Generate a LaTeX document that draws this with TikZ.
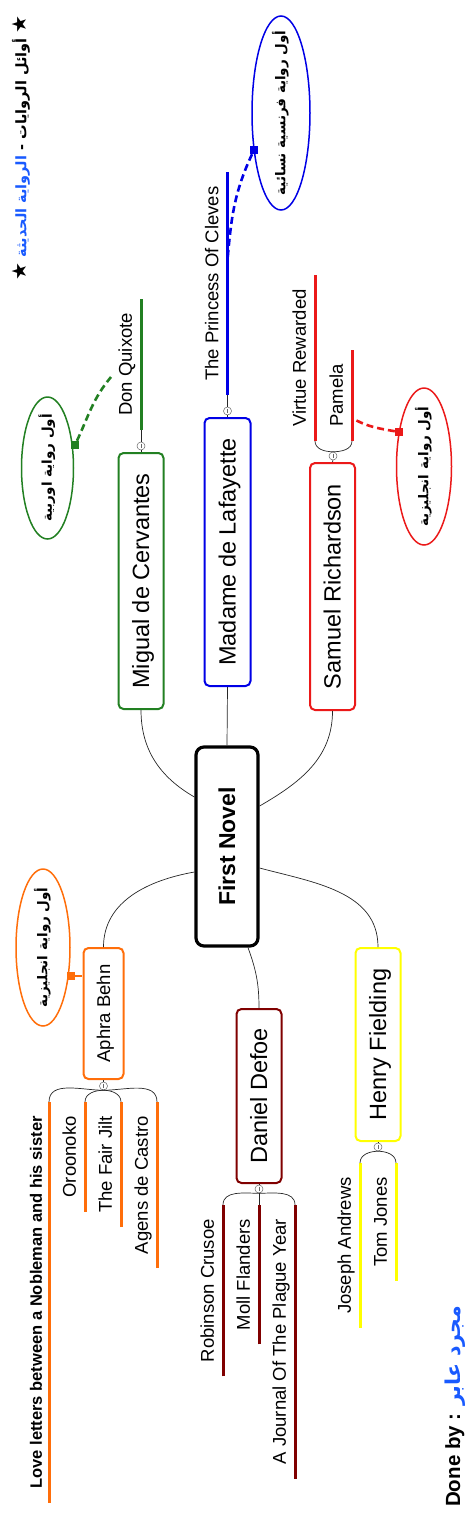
\documentclass[tikz,border=0pt]{standalone}
\usepackage{fontspec}
\setmainfont{Liberation Sans}
\newfontfamily\arabicfont[Script=Arabic]{DejaVu Sans}
\newfontfamily\symbfont{DejaVu Sans}
\TeXXeTstate=1
\usetikzlibrary{shapes.geometric,calc}
\definecolor{cgreen}{RGB}{34,128,34}
\definecolor{cblue}{RGB}{0,0,230}
\definecolor{cred}{RGB}{235,25,25}
\definecolor{corange}{RGB}{255,110,10}
\definecolor{cmaroon}{RGB}{128,0,0}
\definecolor{cyellow}{RGB}{255,255,0}
\definecolor{tblue}{RGB}{25,90,255}
\newcommand{\elltext}[1]{\raisebox{-0.32em}[0pt][0pt]{\makebox[0pt]{\beginR #1\endR}}}
\tikzset{
  conn/.style={draw=black!85, line width=0.7pt},
  fnbox/.style={draw=black, rounded corners=8pt, line width=3.2pt, rotate=90, fill=white,
     font=\bfseries\fontsize{23}{28}\selectfont, inner sep=0pt, text height=16.5pt, text depth=0.5pt,
     minimum width=199pt, minimum height=62pt},
  mainbox/.style={rounded corners=5pt, line width=2pt, rotate=90, fill=white,
     font=\fontsize{23.5}{28}\selectfont, inner sep=0pt, text height=17pt, text depth=1pt},
  sub/.style={rotate=90, font=\fontsize{18.5}{22}\selectfont, inner xsep=14pt, inner ysep=4pt,
     text height=14pt, text depth=5pt},
  subl/.style={line width=3pt},
  coll/.style={circle, draw=black!60, fill=white, inner sep=0pt, minimum size=8pt, line width=0.5pt,
     path picture={\draw[black!60, line width=0.4pt] ([yshift=-1.6pt]path picture bounding box.north) -- ([yshift=1.6pt]path picture bounding box.south);}},
  ell/.style={ellipse, rotate=90, line width=1.5pt, inner sep=0pt, fill=white,
     font=\arabicfont\bfseries\fontsize{13.5}{16}\selectfont},
  sq/.style={rectangle, inner sep=0pt, minimum size=8pt},
  dashl/.style={line width=2.6pt, dash pattern=on 7pt off 4pt}
}
\begin{document}
\begin{tikzpicture}[x=1pt,y=1pt]
\useasboundingbox (0,0) rectangle (468,-1516);

% title
\node[rotate=90, font=\arabicfont\bfseries\fontsize{14.5}{20}\selectfont, inner sep=0pt] (title) at (21,-148)
  {{\symbfont\fontsize{20}{20}\selectfont ★}\ {\color{tblue}\beginR الرواية الحديثة\endR} - \beginR أوائل الروايات\endR\ {\symbfont\fontsize{20}{20}\selectfont ★}};

% central
\node[fnbox] (fn) at (227,-846.5) {First Novel};

% main topics
\node[mainbox, draw=cgreen, minimum width=256pt, minimum height=45pt] (cerv) at (141,-581) {Migual de Cervantes};
\node[mainbox, draw=cblue, minimum width=268pt, minimum height=46pt] (laf) at (227.5,-552) {Madame de Lafayette};
\node[mainbox, draw=cred, minimum width=247pt, minimum height=45pt] (rich) at (332.5,-586.5) {Samuel Richardson};
\node[mainbox, draw=corange, minimum width=131pt, minimum height=40pt, font=\fontsize{18.5}{22}\selectfont, text height=13.2pt, text depth=0pt] (aphra) at (103.5,-1013.5) {Aphra Behn};
\node[mainbox, draw=cmaroon, minimum width=174pt, minimum height=45pt] (defoe) at (259,-1096) {Daniel Defoe};
\node[mainbox, draw=cyellow, minimum width=193pt, minimum height=45pt] (field) at (378,-1044.5) {Henry Fielding};

% connectors from central
\draw[conn] ($(fn.north)+(0,49.5)$) to[out=150,in=-90] (cerv.west);
\draw[conn] (fn.east) -- (laf.west);
\draw[conn] ($(fn.south)+(0,40.5)$) to[out=30,in=-90] (rich.west);
\draw[conn] ($(fn.north)+(0,-25.5)$) to[out=190,in=90] (aphra.east);
\draw[conn] ($(fn.west)+(21,0)$) to[out=-70,in=90] (defoe.east);
\draw[conn] ($(fn.south)+(0,-21.5)$) to[out=-15,in=90] (field.east);

% collapse markers
\node[coll] (cc) at (141,-446) {};
\node[coll] (lc) at (227.5,-411) {};
\node[coll] (rc) at (333,-456) {};
\node[coll] (ac) at (103.5,-1086) {};
\node[coll] (dc) at (259,-1189) {};
\node[coll] (fc) at (378,-1147) {};
\draw[conn] (cerv.east) -- (cc.south);
\draw[conn] (laf.east) -- (lc.south);
\draw[conn] (rich.east) -- (rc.south);
\draw[conn] (aphra.west) -- (ac.north);
\draw[conn] (defoe.west) -- (dc.north);
\draw[conn] (field.west) -- (fc.north);

% Cervantes
\node[sub, anchor=south west] (dq) at (141,-430) {Don Quixote};
\draw[subl, cgreen] (dq.south west) -- (dq.south east);
\draw[conn] (cc.north) -- (dq.south west);

% Lafayette
\node[sub, anchor=south west] (pc) at (227.5,-395) {The Princess Of Cleves};
\draw[subl, cblue] (pc.south west) -- (pc.south east);
\draw[conn] (lc.north) -- (pc.south west);

% Richardson
\node[sub, anchor=south west] (vr) at (315,-441) {Virtue Rewarded};
\node[sub, anchor=south west] (pm) at (352,-441) {Pamela};
\draw[subl, cred] (vr.south west) -- (vr.south east);
\draw[subl, cred] (pm.south west) -- (pm.south east);
\draw[conn] (rc.north) to[out=180,in=-90] (vr.south west);
\draw[conn] (rc.north) to[out=0,in=-90] (pm.south west);

% Aphra Behn
\node[sub, anchor=south east, font=\bfseries\fontsize{16.5}{20}\selectfont, text height=12pt, text depth=3pt] (ll) at (49,-1102) {Love letters between a Nobleman and his sister};
\node[sub, anchor=south east] (oo) at (85,-1102) {Oroonoko};
\node[sub, anchor=south east] (fj) at (121,-1102) {The Fair Jilt};
\node[sub, anchor=south east] (ag) at (157,-1102) {Agens de Castro};
\foreach \n in {ll,oo,fj,ag} \draw[subl, corange] (\n.south west) -- (\n.south east);
\draw[conn] (ac.south) to[out=180,in=90] (ll.south east);
\draw[conn] (ac.south) to[out=180,in=90] (oo.south east);
\draw[conn] (ac.south) to[out=0,in=90] (fj.south east);
\draw[conn] (ac.south) to[out=0,in=90] (ag.south east);

% Defoe
\node[sub, anchor=south east] (rcr) at (223,-1205) {Robinson Crusoe};
\node[sub, anchor=south east] (mf) at (259,-1205) {Moll Flanders};
\node[sub, anchor=south east] (jp) at (295,-1205) {A Journal Of The Plague Year};
\foreach \n in {rcr,mf,jp} \draw[subl, cmaroon] (\n.south west) -- (\n.south east);
\draw[conn] (dc.south) to[out=180,in=90] (rcr.south east);
\draw[conn] (dc.south) -- (mf.south east);
\draw[conn] (dc.south) to[out=0,in=90] (jp.south east);

% Fielding
\node[sub, anchor=south east] (ja) at (360,-1163) {Joseph Andrews};
\node[sub, anchor=south east] (tj) at (396,-1163) {Tom Jones};
\foreach \n in {ja,tj} \draw[subl, cyellow] (\n.south west) -- (\n.south east);
\draw[conn] (fc.south) to[out=180,in=90] (ja.south east);
\draw[conn] (fc.south) to[out=0,in=90] (tj.south east);

% callouts
\node[ell, draw=cblue, minimum width=194pt, minimum height=58pt] (eb) at (281,-113) {\elltext{أول رواية فرنسية نسائية}};
\node[ell, draw=cgreen, minimum width=142pt, minimum height=52pt] (eg) at (47.5,-468) {\elltext{أول رواية اوربية}};
\node[ell, draw=cred, minimum width=157pt, minimum height=55pt] (er) at (424,-466.5) {\elltext{أول رواية انجليزية}};
\node[ell, draw=corange, minimum width=157pt, minimum height=54pt] (eo) at (43,-947.5) {\elltext{أول رواية انجليزية}};

\node[sq, fill=cblue] (sb) at (254,-150) {};
\node[sq, fill=cgreen] (sg) at (75,-445) {};
\node[sq, fill=cred] (sr) at (399,-432) {};
\node[sq, fill=corange] (so) at (71,-976) {};

\coordinate (pcd) at ($(pc.south west)+(0,135)$);
\coordinate (dqd) at (111,-377);
\coordinate (pmd) at ($(pm.south west)+(0,23)$);
\coordinate (abd) at ($(aphra.north)+(0,37.5)$);

\draw[dashl, cblue] (sb) to[out=-115,in=85] (pcd);
\draw[dashl, cgreen] (sg) to[out=65,in=-130] (dqd);
\draw[dashl, cred] (sr) to[out=170,in=-30] (pmd);
\draw[dashl, corange] (so) -- (abd);

% signature
\node[rotate=90, anchor=base west, inner sep=0pt, font=\fontsize{20.5}{24}\selectfont] (done) at (460,-1507)
  {{\bfseries Done by :} {\arabicfont\bfseries\color{tblue}\beginR مجرد عابر\endR}};
\end{tikzpicture}
\end{document}
